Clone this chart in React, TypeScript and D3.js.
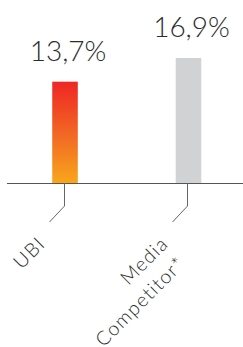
import React, { useEffect, useRef } from "react";
import * as d3 from "d3";

const categories = ["UBI", "Media Competitor*"];
const values = [13.7, 16.9];
const valueLabels = ["13,7%", "16,9%"];

const W = 243;
const H = 347;

export default function App() {
  const ref = useRef<SVGSVGElement>(null);

  useEffect(() => {
    const svg = d3.select(ref.current);
    svg.selectAll("*").remove();

    const base = 183;
    const x = d3.scaleBand().domain(categories).range([-9.5, 263]).paddingInner(0.793).paddingOuter(0.5);
    const y = d3.scaleLinear().domain([0, 16.9]).range([base, 58]);

    // gradient for the UBI bar
    const grad = svg.append("defs").append("linearGradient")
      .attr("id", "ubiGrad")
      .attr("x1", 0).attr("y1", 0).attr("x2", 0).attr("y2", 1);
    grad.append("stop").attr("offset", "0%").attr("stop-color", "#ee2624");
    grad.append("stop").attr("offset", "55%").attr("stop-color", "#f26b24");
    grad.append("stop").attr("offset", "100%").attr("stop-color", "#f8a61b");

    const fills = ["url(#ubiGrad)", "#d1d2d4"];

    svg.selectAll("rect.bar")
      .data(values)
      .join("rect")
      .attr("class", "bar")
      .attr("x", (d, i) => x(categories[i]))
      .attr("y", d => y(d))
      .attr("width", x.bandwidth())
      .attr("height", d => base - y(d))
      .attr("fill", (d, i) => fills[i]);

    // value labels
    svg.selectAll("text.val")
      .data(values)
      .join("text")
      .attr("class", "val")
      .attr("x", (d, i) => x(categories[i]) + x.bandwidth() / 2 + 3)
      .attr("y", d => y(d) - 21)
      .attr("text-anchor", "middle")
      .attr("font-family", "Lato")
      .attr("font-weight", 300)
      .attr("font-size", 28)
      .attr("fill", "#2b2b2b")
      .text((d, i) => valueLabels[i]);

    // baseline
    svg.append("line")
      .attr("x1", 7).attr("x2", W)
      .attr("y1", base + 0.5).attr("y2", base + 0.5)
      .attr("stroke", "#555").attr("stroke-width", 1);

    // leader ticks
    const tx = (c: string) => Math.round(x(c) + x.bandwidth() / 2 - 1.5) + 0.5;
    svg.selectAll("path.tick")
      .data(categories)
      .join("path")
      .attr("class", "tick")
      .attr("d", c => `M${tx(c)},${base}V206L${tx(c) - 15},222`)
      .attr("fill", "none")
      .attr("stroke", "#666")
      .attr("stroke-width", 1);

    // category labels, rotated
    const lab = svg.selectAll("text.cat")
      .data(categories)
      .join("text")
      .attr("class", "cat")
      .attr("transform", c => `translate(${tx(c) - 18},${245}) rotate(-45)`)
      .attr("text-anchor", "end")
      .attr("font-family", "Lato")
      .attr("font-weight", 300)
      .attr("font-size", 19.5)
      .attr("letter-spacing", 1.2)
      .attr("fill", "#2b2b2b");

    lab.each(function (c) {
      const words = c === "UBI" ? ["UBI"] : ["Media", "Competitor*"];
      const t = d3.select(this);
      words.forEach((w, i) => {
        t.append("tspan")
          .attr("x", i === 0 ? 0 : -2)
          .attr("dy", i === 0 ? 0 : 26)
          .text(w);
      });
    });
  }, []);

  return (
    <svg ref={ref} width={W} height={H} style={{ position: "absolute", left: 0, top: 0, background: "#fff" }} />
  );
}
